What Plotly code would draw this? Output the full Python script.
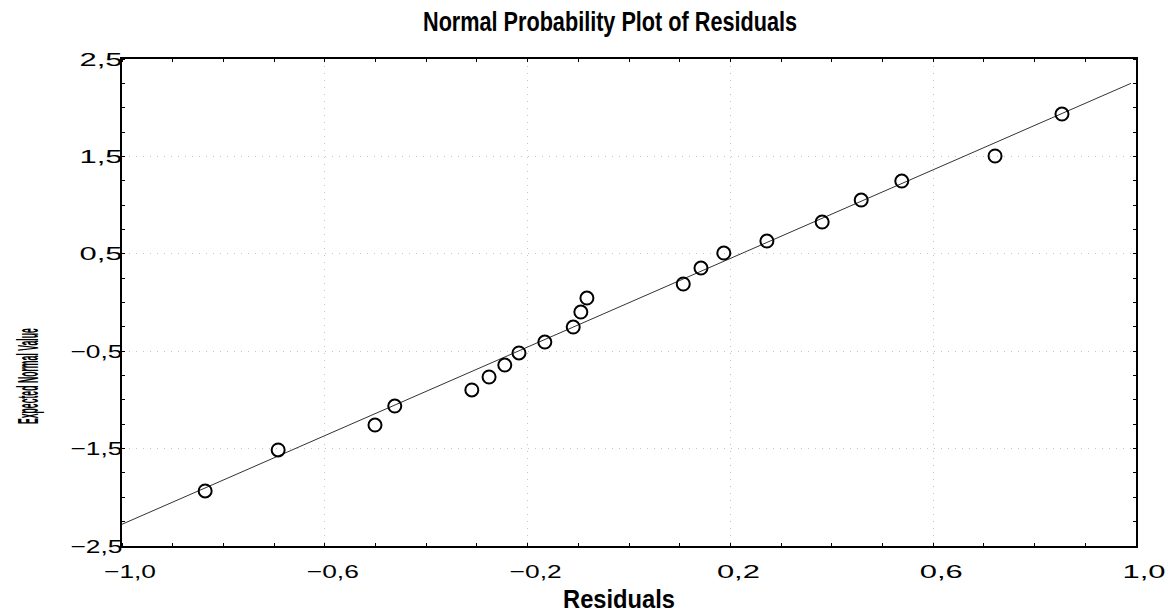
import plotly.graph_objects as go

# Data
residuals = [-0.836, -0.692, -0.501, -0.462, -0.310, -0.276, -0.245, -0.217, -0.166,
             -0.110, -0.095, -0.083, 0.107, 0.142, 0.187, 0.272, 0.381, 0.458, 0.538,
             0.722, 0.854]
expected_normal = [-1.935, -1.514, -1.258, -1.063, -0.898, -0.765, -0.642, -0.518, -0.406,
                   -0.252, -0.098, 0.046, 0.190, 0.354, 0.508, 0.631, 0.826, 1.052, 1.247,
                   1.504, 1.935]
fit_x = [-1.0, 0.99]
fit_y = [-2.277, 2.25]

x_ticks = [-1.0, -0.6, -0.2, 0.2, 0.6, 1.0]
y_ticks = [-2.5, -1.5, -0.5, 0.5, 1.5, 2.5]

FONT = "Liberation Sans, Arial, sans-serif"

fig = go.Figure()
fig.add_trace(go.Scatter(x=fit_x, y=fit_y, mode="lines",
                         line=dict(color="#333333", width=1), hoverinfo="skip",
                         showlegend=False))
fig.add_trace(go.Scatter(x=residuals, y=expected_normal, mode="markers",
                         marker=dict(symbol="circle-open", size=13,
                                     line=dict(color="black", width=2), color="black"),
                         showlegend=False))

axis_common = dict(
    showline=True, linecolor="black", linewidth=1.5, mirror="allticks",
    showgrid=True, gridcolor="#c4c4c4", griddash="1px,6px", gridwidth=1,
    zeroline=False, ticks="", tickfont=dict(family=FONT, size=19, color="black"),
)

fig.update_xaxes(range=[-1, 1], tickvals=x_ticks, tickformat=".1f",
                 minor=dict(dtick=0.1, tick0=-1, ticks="inside", ticklen=3,
                            tickcolor="black", showgrid=False),
                 ticklabelshift=8, ticklabelstandoff=7, **axis_common)
fig.update_yaxes(range=[-2.5, 2.5], tickvals=y_ticks, tickformat=".1f",
                 minor=dict(dtick=0.25, tick0=-2.5, ticks="inside", ticklen=3,
                            tickcolor="black", showgrid=False),
                 ticklabelstandoff=-6, **axis_common)

fig.update_layout(
    width=1168, height=614,
    margin=dict(l=122, r=32, t=59, b=68),
    paper_bgcolor="white", plot_bgcolor="white",
    separators=", ",
    font=dict(family=FONT, color="black"),
    title=dict(text="Normal Probability Plot of Residuals", x=610 / 1168, xanchor="center",
               y=1 - 22 / 614, yanchor="middle", yref="container",
               font=dict(family=FONT, size=27, color="black", weight="bold")),
    annotations=[
        dict(text="Residuals", xref="paper", yref="paper", x=(619 - 122) / 1014,
             y=(546 - 599) / 487, xanchor="center", yanchor="middle", showarrow=False,
             font=dict(family=FONT, size=25, color="black", weight="bold")),
        dict(text="Expected Normal Value", xref="paper", yref="paper", x=(27 - 122) / 1014,
             y=(546 - 376) / 487, xanchor="center", yanchor="middle", textangle=-90,
             showarrow=False, font=dict(family=FONT, size=30, color="black", weight="bold")),
    ],
)

# Squeeze/stretch the text horizontally the way the original renderer did
post = """
var gd = document.getElementById('{plot_id}');
function fit(el, len){ el.setAttribute('textLength', len); el.setAttribute('lengthAdjust', 'spacingAndGlyphs'); }
function apply(){
  gd.querySelectorAll('.gtitle').forEach(function(t){ fit(t, 374); });
  gd.querySelectorAll('.annotation-text').forEach(function(t){
    if (t.textContent.indexOf('Residuals') === 0) fit(t, 112);
    else fit(t, 96);
  });
  gd.querySelectorAll('.xtick text, .ytick text').forEach(function(t){
    var s = t.textContent;
    fit(t, (s.indexOf('\\u2212') >= 0 || s.indexOf('-') >= 0) ? 52 : 43);
  });
}
apply();
gd.on('plotly_afterplot', apply);
"""

fig.write_html("out.html", post_script=post)
